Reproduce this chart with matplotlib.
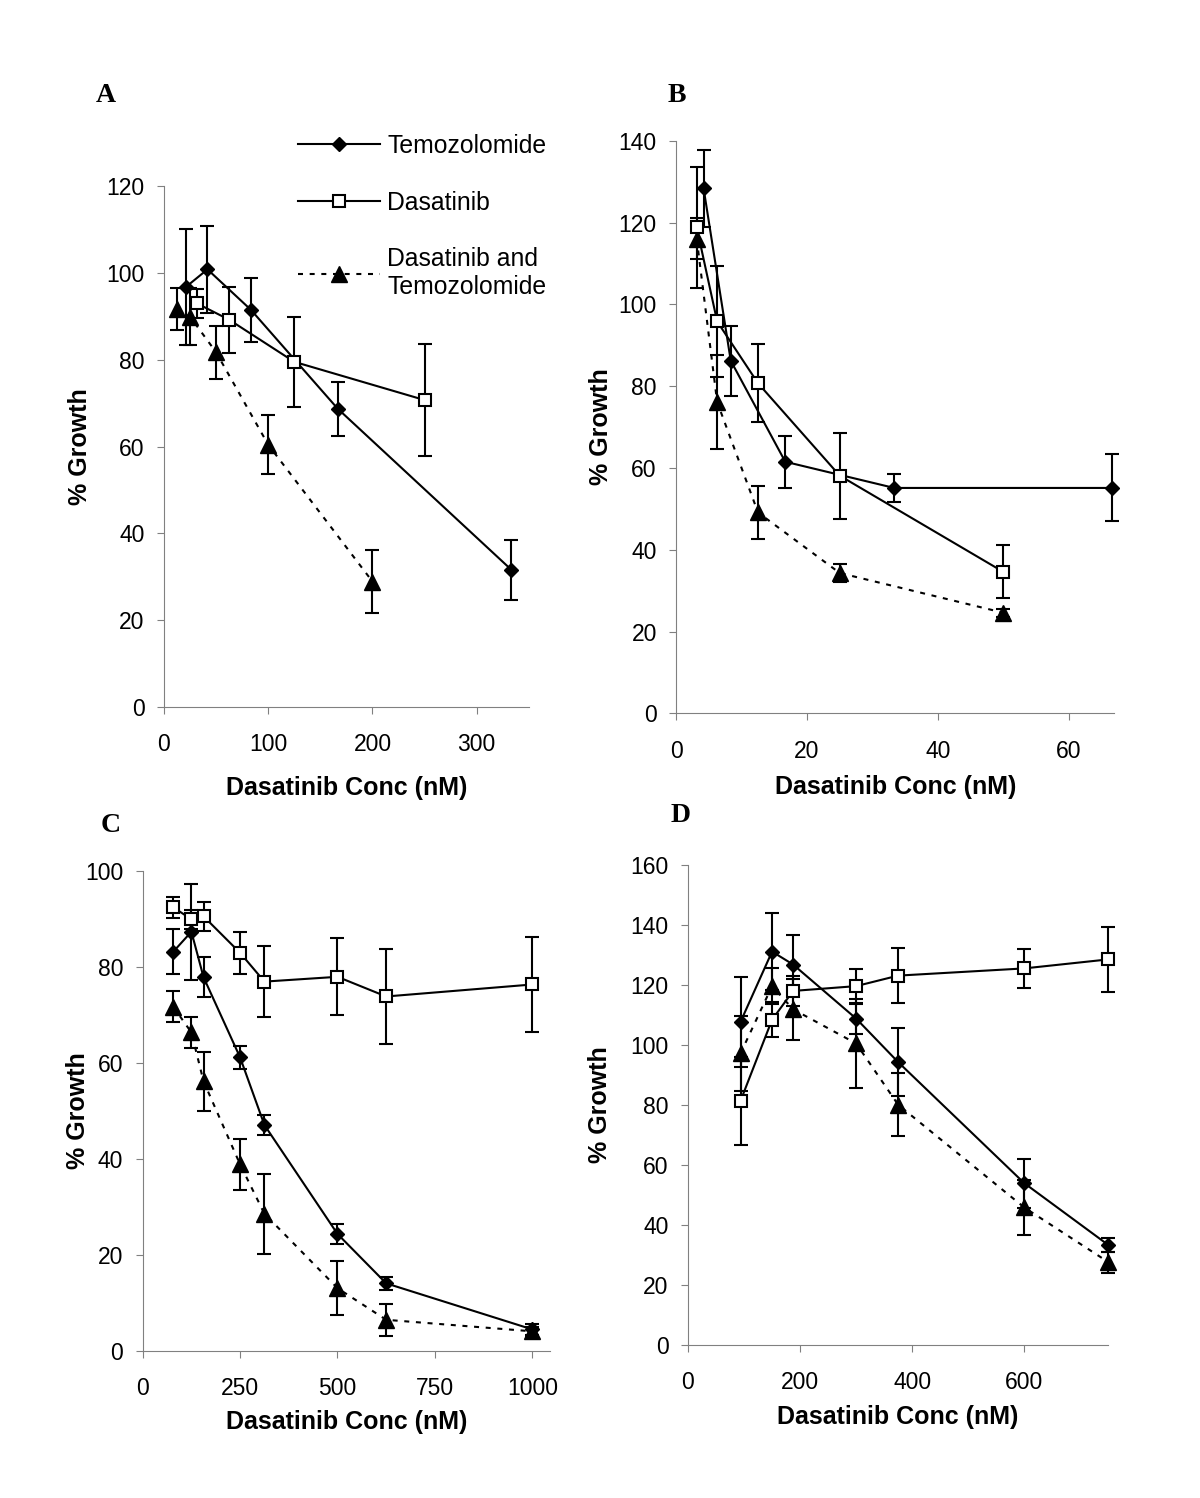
import matplotlib
matplotlib.use('Agg')
import matplotlib.pyplot as plt
from matplotlib.lines import Line2D

plt.rcParams['font.family'] = ['Liberation Sans', 'DejaVu Sans']

# ---- data ----
# Panel A
a_temo_x = [20.8, 41.7, 83.3, 166.7, 333.3]
a_temo_y = [96.7, 100.8, 91.5, 68.7, 31.6]
a_temo_err = [13.3, 10.0, 7.4, 6.2, 6.9]
a_dasa_x = [31.25, 62.5, 125, 250]
a_dasa_y = [93.0, 89.2, 79.5, 70.7]
a_dasa_err = [3.3, 7.6, 10.4, 12.8]
a_comb_x = [12.5, 25, 50, 100, 200]
a_comb_y = [91.7, 89.9, 81.7, 60.4, 28.9]
a_comb_err = [4.8, 6.5, 6.1, 6.8, 7.3]

# Panel B
b_temo_x = [4.17, 8.33, 16.67, 33.33, 66.67]
b_temo_y = [128.4, 86.2, 61.5, 55.1, 55.1]
b_temo_err = [9.4, 8.5, 6.3, 3.4, 8.2]
b_dasa_x = [3.125, 6.25, 12.5, 25, 50]
b_dasa_y = [118.8, 95.8, 80.7, 58.1, 34.6]
b_dasa_err = [14.8, 13.5, 9.5, 10.5, 6.5]
b_comb_x = [3.125, 6.25, 12.5, 25, 50]
b_comb_y = [116.0, 76.1, 49.1, 34.3, 24.6]
b_comb_err = [5.0, 11.4, 6.5, 2.2, 1.0]

# Panel C
c_x = [78.125, 125, 156.25, 250, 312.5, 500, 625, 1000]
c_temo_y = [83.1, 87.3, 77.8, 61.1, 47.0, 24.3, 14.0, 4.4]
c_temo_err = [4.7, 10.0, 4.2, 2.4, 2.1, 2.1, 1.4, 1.2]
c_dasa_y = [92.4, 89.9, 90.5, 82.9, 76.9, 77.9, 73.8, 76.3]
c_dasa_err = [2.2, 2.0, 3.0, 4.4, 7.4, 8.0, 9.9, 10.0]
c_comb_y = [71.7, 66.3, 56.1, 38.8, 28.5, 13.0, 6.4, 4.0]
c_comb_err = [3.3, 3.2, 6.2, 5.3, 8.3, 5.6, 3.3, 1.0]

# Panel D
d_x = [93.75, 150, 187.5, 300, 375, 600, 750]
d_temo_y = [107.6, 131.0, 126.7, 108.7, 94.2, 53.9, 33.3]
d_temo_err = [15.0, 12.8, 9.8, 5.0, 11.2, 8.2, 2.2]
d_dasa_y = [81.3, 108.3, 117.9, 119.5, 123.0, 125.4, 128.4]
d_dasa_err = [14.7, 5.8, 5.0, 5.6, 9.2, 6.6, 10.8]
d_comb_y = [97.1, 119.5, 111.8, 100.4, 80.0, 45.8, 27.6]
d_comb_err = [12.5, 6.0, 10.2, 14.7, 10.5, 9.2, 3.5]

labels = ['Temozolomide', 'Dasatinib', 'Dasatinib and\nTemozolomide']

W, H = 1200, 1498
fig = plt.figure(figsize=(W / 100, H / 100), dpi=100)

GREY = '#808080'
TICK_FS = 16.5
LAB_FS = 18


def px_rect(l, r, t, b):
    return [l / W, 1 - b / H, (r - l) / W, (b - t) / H]


temo_kw = dict(fmt='-', marker='D', color='k', ms=7.5, mfc='k', mec='k', lw=1.5,
               elinewidth=1.5, capsize=5, capthick=1.5, clip_on=False, zorder=3)
dasa_kw = dict(fmt='-', marker='s', color='k', ms=9, mfc='white', mec='k', mew=1.5,
               lw=1.5, elinewidth=1.5, capsize=5, capthick=1.5, clip_on=False, zorder=4)
comb_kw = dict(fmt='^', color='k', ms=11, mfc='k', mec='k', lw=1.5,
               elinewidth=1.5, capsize=5, capthick=1.5, clip_on=False, zorder=3)
DOT = (0, (2.4, 3.2))


def draw_panel(rect, series, xlim, xticks, ylim, yticks, letter, letter_xy,
               ylab_x, xlab_y, ytick_pad):
    ax = fig.add_axes(px_rect(*rect))
    (tx, ty, te), (dx, dy, de), (cx, cy, ce) = series
    ax.errorbar(tx, ty, yerr=te, **temo_kw)
    ax.errorbar(dx, dy, yerr=de, **dasa_kw)
    ax.errorbar(cx, cy, yerr=ce, **comb_kw)
    ax.plot(cx, cy, color='k', lw=1.5, ls=DOT, zorder=2, clip_on=False)

    ax.set_xlim(*xlim)
    ax.set_ylim(*ylim)
    ax.set_xticks(xticks)
    ax.set_yticks(yticks)
    for s in ('top', 'right'):
        ax.spines[s].set_visible(False)
    for s in ('left', 'bottom'):
        ax.spines[s].set_color(GREY)
        ax.spines[s].set_linewidth(0.8)
    ax.tick_params(axis='both', direction='out', length=5, width=0.8,
                   color=GREY, labelsize=TICK_FS, labelcolor='k')
    ax.tick_params(axis='x', pad=14)
    ax.tick_params(axis='y', pad=ytick_pad)

    l, r, t, b = rect
    ax.set_xlabel('Dasatinib Conc (nM)', fontsize=LAB_FS, fontweight='bold')
    ax.xaxis.set_label_coords(0.5, (b - xlab_y) / (b - t))
    ax.xaxis.label.set_verticalalignment('center')
    ax.set_ylabel('% Growth', fontsize=LAB_FS, fontweight='bold')
    ax.yaxis.set_label_coords((ylab_x - l) / (r - l), 0.5)
    ax.yaxis.label.set_verticalalignment('center')

    fig.text(letter_xy[0] / W, 1 - letter_xy[1] / H, letter,
             family=['Liberation Serif', 'DejaVu Serif'], fontweight='bold',
             fontsize=20, ha='center', va='center')
    return ax


draw_panel((164, 528.8, 186, 707),
           [(a_temo_x, a_temo_y, a_temo_err), (a_dasa_x, a_dasa_y, a_dasa_err),
            (a_comb_x, a_comb_y, a_comb_err)],
           (0, 350), [0, 100, 200, 300], (0, 120), range(0, 121, 20),
           'A', (106, 95), 80, 788, 9)

draw_panel((676.3, 1114.3, 140.7, 713.3),
           [(b_temo_x, b_temo_y, b_temo_err), (b_dasa_x, b_dasa_y, b_dasa_err),
            (b_comb_x, b_comb_y, b_comb_err)],
           (0, 67), [0, 20, 40, 60], (0, 140), range(0, 141, 20),
           'B', (677, 95), 601, 787, 9)

draw_panel((142.7, 549.8, 870.8, 1350.5),
           [(c_x, c_temo_y, c_temo_err), (c_x, c_dasa_y, c_dasa_err),
            (c_x, c_comb_y, c_comb_err)],
           (0, 1045), [0, 250, 500, 750, 1000], (0, 100), range(0, 101, 20),
           'C', (111, 825), 78, 1422, 9)

draw_panel((688, 1108.3, 864.5, 1345),
           [(d_x, d_temo_y, d_temo_err), (d_x, d_dasa_y, d_dasa_err),
            (d_x, d_comb_y, d_comb_err)],
           (0, 750), [0, 200, 400, 600], (0, 160), range(0, 161, 20),
           'D', (681, 815), 600, 1417, 9)

# legend (top of panel A)
handles = [
    Line2D([], [], color='k', lw=1.5, marker='D', ms=7.5, mfc='k', mec='k'),
    Line2D([], [], color='k', lw=1.5, marker='s', ms=9, mfc='white', mec='k', mew=1.5),
    Line2D([], [], color='k', lw=1.5, ls=DOT, marker='^', ms=11, mfc='k', mec='k'),
]
fig.legend(handles, labels, loc='upper left', bbox_to_anchor=(298 / W, 1 - 134 / H),
           frameon=False, fontsize=17.8, handlelength=3.3, handletextpad=0.3,
           labelspacing=1.32, borderpad=0, borderaxespad=0)

fig.savefig('out.png', dpi=100, facecolor='white')
